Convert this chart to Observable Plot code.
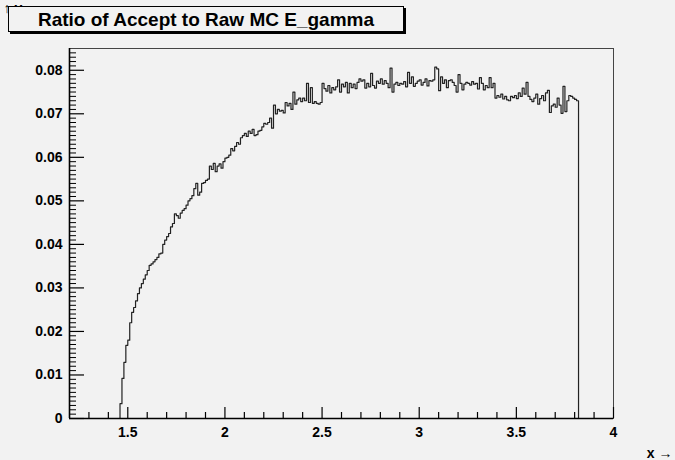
<!DOCTYPE html>
<html>
<head>
<meta charset="utf-8">
<script src="https://cdn.jsdelivr.net/npm/d3@7"></script>
<script src="https://cdn.jsdelivr.net/npm/@observablehq/plot@0.6"></script>
<style>
  html, body { margin: 0; padding: 0; background: #f2f2f2; }
  #wrap { position: relative; width: 675px; height: 460px; background: #f2f2f2; }
  #title {
    position: absolute; left: 8px; top: 6px; width: 394px; height: 24px;
    border: 1px solid #000; box-shadow: 2px 2px 0 #000; background: #f2f2f2;
    font-family: "Liberation Sans", Arial, Helvetica, sans-serif; font-weight: bold;
    font-size: 19px; line-height: 25px; text-align: center; color: #000;
  }
</style>
</head>
<body>
<div id="wrap"><div id="title">Ratio of Accept to Raw MC E_gamma</div></div>
<script>
// Histogram binning (lower edge of first non-empty bin and bin width)
const binLo = 1.46;
const binWidth = 0.01;
// Bin contents, from 1.46 to 3.82
const ratio = [
  0.0034, 0.0092, 0.0129, 0.0168, 0.0180, 0.0220, 0.0244, 0.0255, 0.0270, 0.0287,
  0.0300, 0.0310, 0.0320, 0.0330, 0.0340, 0.0352, 0.0355, 0.0360, 0.0365, 0.0370,
  0.0378, 0.0380, 0.0400, 0.0410, 0.0418, 0.0425, 0.0440, 0.0448, 0.0470, 0.0466,
  0.0460, 0.0472, 0.0478, 0.0482, 0.0490, 0.0500, 0.0505, 0.0512, 0.0528, 0.0540,
  0.0513, 0.0520, 0.0540, 0.0542, 0.0547, 0.0550, 0.0580, 0.0572, 0.0586, 0.0567,
  0.0580, 0.0585, 0.0575, 0.0590, 0.0598, 0.0600, 0.0605, 0.0620, 0.0615, 0.0625,
  0.0634, 0.0630, 0.0645, 0.0650, 0.0655, 0.0648, 0.0660, 0.0655, 0.0664, 0.0650,
  0.0652, 0.0660, 0.0662, 0.0670, 0.0678, 0.0676, 0.0680, 0.0690, 0.0667, 0.0720,
  0.0700, 0.0710, 0.0706, 0.0708, 0.0702, 0.0726, 0.0718, 0.0724, 0.0710, 0.0750,
  0.0722, 0.0732, 0.0736, 0.0728, 0.0736, 0.0730, 0.0770, 0.0726, 0.0760, 0.0724,
  0.0728, 0.0724, 0.0722, 0.0726, 0.0770, 0.0758, 0.0752, 0.0765, 0.0748, 0.0760,
  0.0755, 0.0762, 0.0778, 0.0750, 0.0768, 0.0762, 0.0772, 0.0748, 0.0770, 0.0760,
  0.0768, 0.0758, 0.0772, 0.0780, 0.0775, 0.0778, 0.0759, 0.0770, 0.0762, 0.0793,
  0.0765, 0.0759, 0.0775, 0.0770, 0.0780, 0.0768, 0.0776, 0.0770, 0.0760, 0.0805,
  0.0750, 0.0768, 0.0772, 0.0765, 0.0770, 0.0768, 0.0774, 0.0762, 0.0795, 0.0770,
  0.0785, 0.0763, 0.0770, 0.0775, 0.0778, 0.0766, 0.0772, 0.0780, 0.0764, 0.0776,
  0.0775, 0.0778, 0.0807, 0.0803, 0.0753, 0.0785, 0.0770, 0.0778, 0.0760, 0.0776,
  0.0778, 0.0772, 0.0765, 0.0750, 0.0790, 0.0770, 0.0755, 0.0768, 0.0772, 0.0770,
  0.0766, 0.0774, 0.0768, 0.0770, 0.0757, 0.0783, 0.0770, 0.0755, 0.0765, 0.0760,
  0.0783, 0.0760, 0.0770, 0.0736, 0.0742, 0.0738, 0.0745, 0.0734, 0.0740, 0.0732,
  0.0730, 0.0740, 0.0737, 0.0742, 0.0735, 0.0748, 0.0740, 0.0759, 0.0745, 0.0772,
  0.0740, 0.0733, 0.0728, 0.0736, 0.0745, 0.0722, 0.0735, 0.0742, 0.0730, 0.0748,
  0.0754, 0.0703, 0.0718, 0.0722, 0.0715, 0.0736, 0.0720, 0.0701, 0.0763, 0.0705,
  0.0730, 0.0742, 0.0740, 0.0736, 0.0733, 0.0730
];
const xDomain = [1.2, 4];
const yDomain = [0, 0.085];
const xTicks = [1.5, 2, 2.5, 3, 3.5, 4];
const xTickLabels = ["1.5", "2", "2.5", "3", "3.5", "4"];
const xMinorTicks = [1.3, 1.4, 1.6, 1.7, 1.8, 1.9, 2.1, 2.2, 2.3, 2.4, 2.6, 2.7, 2.8, 2.9, 3.1, 3.2, 3.3, 3.4, 3.6, 3.7, 3.8, 3.9];
const yTicks = [0, 0.01, 0.02, 0.03, 0.04, 0.05, 0.06, 0.07, 0.08];
const yTickLabels = ["0", "0.01", "0.02", "0.03", "0.04", "0.05", "0.06", "0.07", "0.08"];
const yMinorTicks = d3.range(0, 85).map(i => +(i * 0.001).toFixed(3)).filter(v => !yTicks.includes(v));

// step vertices
const pts = [{x: binLo, y: 0}];
ratio.forEach((v, i) => pts.push({x: +(binLo + i * binWidth).toFixed(2), y: v}));
pts.push({x: +(binLo + ratio.length * binWidth).toFixed(2), y: 0});

const W = 675, H = 460, mL = 69, mR = 62, mT = 48, mB = 42;
const fw = W - mL - mR, fh = H - mT - mB;
const font = "'Liberation Sans', Arial, Helvetica, sans-serif";

const chart = Plot.plot({
  width: W, height: H,
  marginLeft: mL, marginRight: mR, marginTop: mT, marginBottom: mB,
  style: {background: "transparent", fontFamily: font, fontSize: "14px", fontWeight: "bold", color: "#000", overflow: "visible"},
  x: {domain: xDomain},
  y: {domain: yDomain},
  marks: [
    Plot.frame({stroke: "#444", strokeWidth: 1}),
    Plot.line(pts, {x: "x", y: "y", curve: "step-after", stroke: "#222", strokeWidth: 1.2}),
    // inward ticks
    Plot.ruleX(xTicks, {stroke: "#000", strokeWidth: 1.2, insetTop: fh - 11}),
    Plot.ruleX(xMinorTicks, {stroke: "#000", strokeWidth: 1.2, insetTop: fh - 6}),
    Plot.ruleY(yTicks, {stroke: "#000", strokeWidth: 1.2, insetRight: fw - 15}),
    Plot.ruleY(yMinorTicks, {stroke: "#000", strokeWidth: 1, insetRight: fw - 7}),
    Plot.ruleX([xDomain[0]], {stroke: "#000", strokeWidth: 1.6}),
    Plot.ruleY([0], {stroke: "#000", strokeWidth: 1.6}),
    Plot.axisX(xTicks, {tickSize: 0, tickPadding: 9, tickFormat: d => xTickLabels[xTicks.indexOf(d)], fontSize: 14, fontWeight: "bold", fill: "#000"}),
    Plot.axisY(yTicks, {tickSize: 0, tickPadding: 7, tickFormat: d => yTickLabels[yTicks.indexOf(d)], fontSize: 14, fontWeight: "bold", fill: "#000"})
  ]
});
chart.style.position = "absolute";
chart.style.left = "0px";
chart.style.top = "0px";
document.getElementById("wrap").insertBefore(chart, document.getElementById("title"));
</script>
</body>
</html>
